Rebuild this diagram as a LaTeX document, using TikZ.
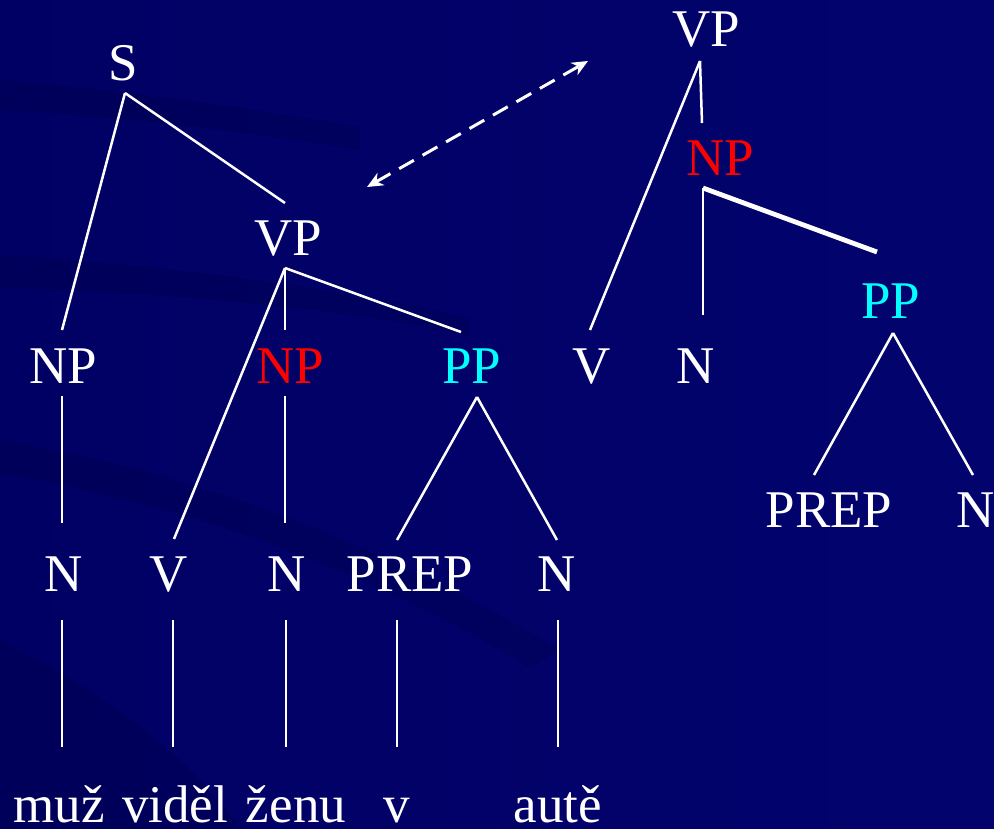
\documentclass[tikz,border=0pt]{standalone}
\usepackage{fontspec}
\setmainfont{Liberation Serif}
\usetikzlibrary{arrows.meta}
\definecolor{slidebg}{RGB}{0,0,100}
\definecolor{slidebgr}{RGB}{3,3,110}
\definecolor{npred}{RGB}{255,0,0}
\definecolor{ppcyan}{RGB}{0,255,255}
\begin{document}
\begin{tikzpicture}[x=1pt,y=-1pt,
  lbl/.style={anchor=base, inner sep=0pt, text=white, font=\fontsize{53}{60}\selectfont},
  redlbl/.style={lbl, text=npred},
  cyanlbl/.style={lbl, text=ppcyan},
  branch/.style={draw=white, line width=2.5pt},
  heavybranch/.style={draw=white, line width=4.8pt},
  swoosh/.style={fill=black, fill opacity=0.09, draw=none},
  movearrow/.style={draw=white, line width=3pt, dash pattern=on 17pt off 10pt,
    {Stealth[length=16pt,width=14pt,inset=5pt]}-{Stealth[length=16pt,width=14pt,inset=5pt]}}]

% slide background with faint swooshes
\useasboundingbox (0,0) rectangle (994,828);
\shade[left color=slidebg, right color=slidebgr] (0,0) rectangle (994,828);
\path[swoosh] (0,80) .. controls (120,90) and (250,108) .. (360,127)
  -- (360,150) .. controls (250,132) and (120,116) .. (0,110) -- cycle;
\path[swoosh] (0,255) .. controls (150,264) and (330,286) .. (470,318)
  -- (470,336) .. controls (330,305) and (150,292) .. (0,288) -- cycle;
\path[swoosh] (0,440) .. controls (180,470) and (380,540) .. (560,650)
  -- (530,668) .. controls (360,565) and (180,502) .. (0,474) -- cycle;
\path[swoosh] (0,640) .. controls (120,700) and (200,770) .. (240,828)
  -- (0,828) -- cycle;

% left tree
\node[lbl] (S) at (123,80) {S};
\node[lbl] (VPl) at (288,255) {VP};
\node[lbl] (NPl) at (63,383) {NP};
\node[redlbl] (NPr) at (290,383) {NP};
\node[cyanlbl] (PPl) at (472,383) {PP};
\node[lbl] (Na) at (64,591) {N};
\node[lbl] (Vb) at (169,591) {V};
\node[lbl] (Nc) at (287,591) {N};
\node[lbl] (PREPd) at (410,591) {PREP};
\node[lbl] (Ne) at (557,591) {N};

% words
\node[lbl] (muz) at (59,822) {muž};
\node[lbl] (videl) at (175,822) {viděl};
\node[lbl] (zenu) at (296,822) {ženu};
\node[lbl] (vw) at (397,822) {v};
\node[lbl] (aute) at (558,822) {autě};

% right tree
\node[lbl] (VPr) at (706,46) {VP};
\node[redlbl] (NPr2) at (720,175) {NP};
\node[lbl] (Vm) at (592,383) {V};
\node[lbl] (Nm) at (696,383) {N};
\node[cyanlbl] (PPr) at (891,318) {PP};
\node[lbl] (PREPr) at (829,527) {PREP};
\node[lbl] (Nr) at (976,527) {N};

% left tree branches
\draw[branch] ([xshift=2pt,yshift=-13pt]S.base) -- ([xshift=-1pt,yshift=53pt]NPl.base);
\draw[branch] ([xshift=2pt,yshift=-13pt]S.base) -- ([xshift=-3pt,yshift=52pt]VPl.base);
\draw[branch] ([xshift=-3pt,yshift=-13pt]VPl.base) -- ([xshift=5pt,yshift=52pt]Vb.base);
\draw[branch] ([xshift=-3pt,yshift=-13pt]VPl.base) -- ([xshift=-5pt,yshift=53pt]NPr.base);
\draw[branch] ([xshift=-3pt,yshift=-13pt]VPl.base) -- ([xshift=-11pt,yshift=51pt]PPl.base);
\draw[branch] ([xshift=-1pt,yshift=-13pt]NPl.base) -- ([xshift=-2pt,yshift=68pt]Na.base);
\draw[branch] ([xshift=-5pt,yshift=-13pt]NPr.base) -- ([xshift=-2pt,yshift=68pt]Nc.base);
\draw[branch] ([xshift=5pt,yshift=-14pt]PPl.base) -- ([xshift=-13pt,yshift=51pt]PREPd.base);
\draw[branch] ([xshift=5pt,yshift=-14pt]PPl.base) -- ([yshift=51pt]Ne.base);

% lexical links
\draw[branch] ([xshift=-2pt,yshift=-29pt]Na.base) -- ([xshift=3pt,yshift=75pt]muz.base);
\draw[branch] ([xshift=4pt,yshift=-29pt]Vb.base) -- ([xshift=-2pt,yshift=75pt]videl.base);
\draw[branch] ([xshift=-1pt,yshift=-29pt]Nc.base) -- ([xshift=-10pt,yshift=75pt]zenu.base);
\draw[branch] ([xshift=-13pt,yshift=-29pt]PREPd.base) -- ([yshift=75pt]vw.base);
\draw[branch] ([xshift=1pt,yshift=-29pt]Ne.base) -- ([yshift=75pt]aute.base);

% right tree branches
\draw[branch] ([xshift=-6pt,yshift=-15pt]VPr.base) -- ([xshift=-18pt,yshift=52pt]NPr2.base);
\draw[branch] ([xshift=-6pt,yshift=-15pt]VPr.base) -- ([xshift=-2pt,yshift=53pt]Vm.base);
\draw[branch] ([xshift=-17pt,yshift=-13pt]NPr2.base) -- ([xshift=7pt,yshift=68pt]Nm.base);
\draw[heavybranch] ([xshift=-17pt,yshift=-13pt]NPr2.base) -- ([xshift=-14pt,yshift=66pt]PPr.base);
\draw[branch] ([xshift=2pt,yshift=-15pt]PPr.base) -- ([xshift=-15pt,yshift=52pt]PREPr.base);
\draw[branch] ([xshift=2pt,yshift=-15pt]PPr.base) -- ([xshift=-3pt,yshift=52pt]Nr.base);

% movement arrow between the two trees
\coordinate (moveA) at (367,187);
\coordinate (moveB) at (588,61);
\draw[movearrow] (moveA) -- (moveB);
\end{tikzpicture}
\end{document}
